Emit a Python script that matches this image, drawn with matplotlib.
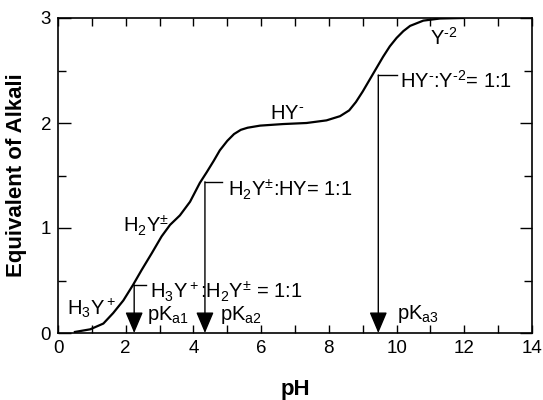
import numpy as np
import matplotlib
matplotlib.use('Agg')
import matplotlib.pyplot as plt
from matplotlib.ticker import MultipleLocator

plt.rcParams['font.family'] = ['Liberation Sans', 'DejaVu Sans']
plt.rcParams['mathtext.fontset'] = 'custom'
plt.rcParams['mathtext.rm'] = 'Liberation Sans'
plt.rcParams['mathtext.it'] = 'Liberation Sans'
plt.rcParams['mathtext.bf'] = 'Liberation Sans:bold'

# titration curve
ph = [0.5, 0.95, 1.34, 1.63, 1.93, 2.22, 2.47, 2.77, 3.06, 3.31, 3.6, 3.9,
      4.19, 4.39, 4.6, 4.78, 5.0, 5.2, 5.4, 5.6, 5.97, 6.65, 7.34, 7.93, 8.33,
      8.6, 8.8, 9.0, 9.2, 9.4, 9.6, 9.8, 10.0, 10.2, 10.4, 10.79, 11.28, 11.97]
eq = [0.01, 0.035, 0.09, 0.19, 0.31, 0.46, 0.60, 0.76, 0.92, 1.03, 1.12, 1.25,
      1.43, 1.53, 1.64, 1.74, 1.83, 1.895, 1.935, 1.955, 1.975, 1.99, 2.0, 2.025, 2.065,
      2.12, 2.2, 2.3, 2.41, 2.52, 2.63, 2.73, 2.81, 2.875, 2.925, 2.975, 2.995, 3.0]

# pKa markers
pka = [2.25, 4.34, 9.46]
pka_top = [0.457, 1.44, 2.457]
bracket_end = [2.6, 4.83, 10.0]
pka_names = ['pK$_{a1}$', 'pK$_{a2}$', 'pK$_{a3}$']
pka_label_x = [2.64, 4.78, 10.0]
pka_label_y = [0.12, 0.12, 0.13]
ratio_text = ['H$_3$Y$^+$:H$_2$Y$^{±}$ = 1:1',
              'H$_2$Y$^{±}$:HY= 1:1',
              'HY$^{\\text{-}}$:Y$^{\\text{-2}}$= 1:1']
ratio_x = [2.72, 5.03, 10.1]
ratio_y = [0.33, 1.30, 2.34]

# species labels
species = ['H$_3$Y$^+$', 'H$_2$Y$^{±}$', 'HY$^{\\text{-}}$', 'Y$^{\\text{-2}}$']
species_x = [0.26, 1.93, 6.26, 10.99]
species_y = [0.17, 0.965, 2.04, 2.74]

fig = plt.figure(figsize=(5.43, 4.0), dpi=100)
ax = fig.add_axes([58/543, 67/400, 474/543, 315/400])

ax.plot(ph, eq, color='black', lw=1.6, solid_joinstyle='round')

for i in range(len(pka)):
    ax.annotate('', xy=(pka[i], 0), xytext=(pka[i], pka_top[i]),
                arrowprops=dict(arrowstyle='-|>,head_length=1.3,head_width=0.55',
                                mutation_scale=10, color='black', lw=1,
                                shrinkA=0, shrinkB=0))
    ax.plot([pka[i], bracket_end[i]], [pka_top[i], pka_top[i]], color='black', lw=1)
    ax.text(pka_label_x[i], pka_label_y[i], pka_names[i], fontsize=14.5,
            ha='left', va='baseline')
    ax.text(ratio_x[i], ratio_y[i], ratio_text[i], fontsize=14.5,
            ha='left', va='baseline')

for s, x, y in zip(species, species_x, species_y):
    ax.text(x, y, s, fontsize=14.5, ha='left', va='baseline')

ax.set_xlim(0, 14)
ax.set_ylim(0, 3)
ax.xaxis.set_major_locator(MultipleLocator(2))
ax.xaxis.set_minor_locator(MultipleLocator(1))
ax.yaxis.set_major_locator(MultipleLocator(1))
ax.yaxis.set_minor_locator(MultipleLocator(0.5))
ax.tick_params(which='both', direction='in', top=True, right=True, width=1,
               labelsize=13.5, pad=5)
ax.tick_params(axis='x', which='both', length=6)
ax.tick_params(axis='y', which='major', length=9)
ax.tick_params(axis='y', which='minor', length=6)
for sp in ax.spines.values():
    sp.set_linewidth(1.2)

ax.set_xlabel('pH', fontsize=16, fontweight='bold', labelpad=16)
ax.set_ylabel('Equivalent of Alkali', fontsize=16, fontweight='bold', labelpad=10)

fig.savefig('out.png', dpi=100)
